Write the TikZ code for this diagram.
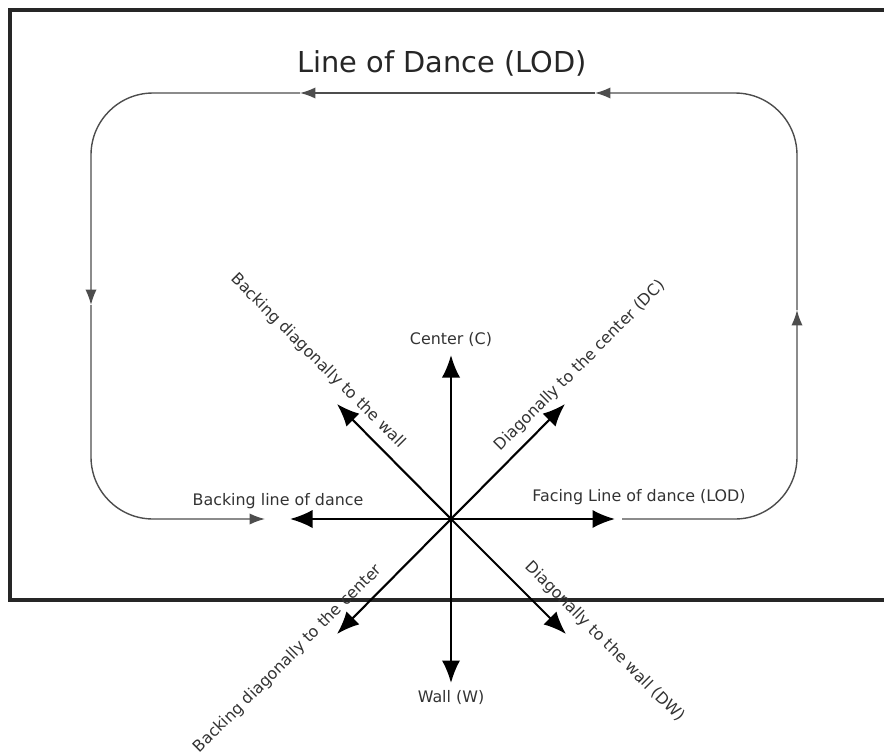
\documentclass[tikz,border=0pt]{standalone}
\usepackage{fontspec}
\setmainfont{DejaVu Sans}
\usetikzlibrary{arrows.meta, positioning}
\definecolor{lodgrey}{HTML}{333333}
\definecolor{loopgrey}{HTML}{4D4D4D}

\begin{document}
\begin{tikzpicture}[x=0.025cm, y=-0.025cm,
  dirarrow/.style={line width=1.5pt, -{Latex[length=16pt, width=13pt]}},
  looppath/.style={loopgrey, line width=1pt, rounded corners=1.55cm, -{Latex[length=11pt, width=8pt]}},
  dirlabel/.style={font=\fontsize{11.3}{13}\selectfont, text=lodgrey, inner sep=1pt}]
  \useasboundingbox (0,0) rectangle (884,752);
  % room outline
  \draw[black!85, line width=2.4pt] (884,10) -- (10,10) -- (10,600) -- (884,600);
  \node[font=\fontsize{20.5}{24}\selectfont, text=black!85] (title) at (442,63) {Line of Dance (LOD)};

  % line of dance round the room
  \coordinate (l0) at (622,519);
  \coordinate (l1) at (797,310);
  \coordinate (l2) at (595,93);
  \coordinate (l3) at (300,93);
  \coordinate (l4) at (91,305);
  \coordinate (l5) at (265,519);
  \draw[looppath] (l0) -| (l1);
  \draw[looppath] (l1) |- (l2);
  \draw[looppath] (l2) -- (l3);
  \draw[looppath] (l3) -| (l4);
  \draw[looppath] (l4) |- (l5);

  % directions
  \coordinate (o) at (451,519);
  \coordinate (tC) at (451,355);
  \coordinate (tW) at (451,683);
  \coordinate (tLOD) at (615,519);
  \coordinate (tBLOD) at (290,519);
  \coordinate (tDC) at (565,404);
  \coordinate (tBDW) at (337,404);
  \coordinate (tBDC) at (337,634);
  \coordinate (tDW) at (566,634);
  \foreach \t in {tC, tW, tLOD, tBLOD, tDC, tBDW, tBDC, tDW}
    \draw[dirarrow] (o) -- (\t);

  \node[dirlabel] (cC) at (451,340) {Center (C)};
  \node[dirlabel] (cW) at (451,698) {Wall (W)};
  \node[dirlabel] (cBLOD) at (278,501) {Backing line of dance};
  \node[dirlabel] (cLOD) at (639,497) {Facing Line of dance (LOD)};
  \node[dirlabel, rotate=45] (cDC) at (580,366) {Diagonally to the center (DC)};
  \node[dirlabel, rotate=-45] (cBDW) at (318,361) {Backing diagonally to the wall};
  \node[dirlabel, rotate=45] (cBDC) at (288,659) {Backing diagonally to the center};
  \node[dirlabel, rotate=-45] (cDW) at (605,642) {Diagonally to the wall (DW)};
\end{tikzpicture}
\end{document}
